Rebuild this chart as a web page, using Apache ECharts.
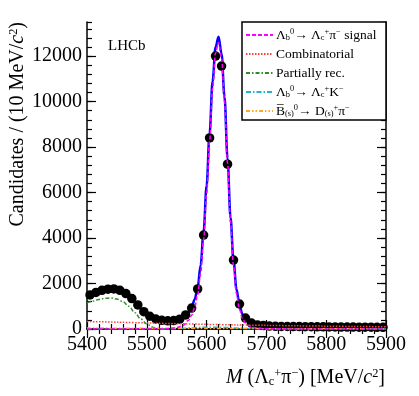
<!DOCTYPE html>
<html>
<head>
<meta charset="utf-8">
<script src="https://cdn.jsdelivr.net/npm/echarts@6/dist/echarts.min.js"></script>
<style>
  html, body { margin: 0; padding: 0; background: #fff; }
  #chart { width: 419px; height: 396px; }
</style>
</head>
<body>
<div id="chart"></div>
<script>
// data points, 10 MeV bins
const binCentres = [5405, 5415, 5425, 5435, 5445, 5455, 5465, 5475, 5485, 5495,
  5505, 5515, 5525, 5535, 5545, 5555, 5565, 5575, 5585, 5595,
  5605, 5615, 5625, 5635, 5645, 5655, 5665, 5675, 5685, 5695,
  5705, 5715, 5725, 5735, 5745, 5755, 5765, 5775, 5785, 5795,
  5805, 5815, 5825, 5835, 5845, 5855, 5865, 5875, 5885, 5895];
const candidates = [1500, 1610, 1700, 1750, 1760, 1700, 1560, 1340, 1060, 760,
  560, 440, 380, 360, 370, 430, 620, 920, 1760, 4130,
  8400, 12000, 11560, 7250, 3030, 1100, 480, 260, 180, 150,
  130, 120, 115, 110, 105, 105, 100, 100, 95, 95,
  90, 90, 85, 85, 85, 80, 80, 80, 75, 75];

// total fit (blue)
const totalMass = [5400, 5410, 5420, 5430, 5440, 5450, 5460, 5470, 5480, 5490, 5500, 5510, 5520, 5530, 5540, 5550,
  5560, 5570, 5575, 5580, 5585, 5590, 5595, 5600, 5605, 5610, 5615, 5620, 5625, 5630, 5635, 5640, 5645,
  5650, 5655, 5660, 5665, 5670, 5680, 5690, 5700, 5750, 5800, 5850, 5900];
const totalFit = [1480, 1590, 1680, 1740, 1770, 1740, 1640, 1450, 1200, 900, 650, 480, 390, 360, 360, 400,
  480, 720, 950, 1300, 1800, 2800, 4300, 6300, 8600, 10900, 12400, 12850, 12100, 10200, 7500, 4900, 3000,
  1750, 1050, 650, 450, 330, 220, 170, 145, 115, 95, 85, 75];

// signal (magenta)
const sigMass = [5400, 5530, 5550, 5560, 5570, 5575, 5580, 5585, 5590, 5595, 5600, 5605, 5610, 5615, 5620,
  5625, 5630, 5635, 5640, 5645, 5650, 5655, 5660, 5665, 5670, 5680, 5700, 5750, 5900];
const sigFit = [0, 0, 60, 140, 380, 600, 950, 1500, 2450, 3950, 5950, 8250, 10600, 12150, 12600,
  11900, 10000, 7300, 4700, 2800, 1550, 850, 450, 260, 150, 60, 15, 0, 0];

// combinatorial (red)
const combMass = [5400, 5450, 5500, 5550, 5600, 5650, 5700, 5750, 5800, 5850, 5900];
const combFit = [330, 300, 265, 235, 205, 180, 160, 140, 125, 110, 100];

// partially reconstructed (green)
const partMass = [5400, 5410, 5420, 5430, 5440, 5450, 5460, 5470, 5480, 5490, 5500, 5510, 5520, 5530, 5540];
const partFit = [1150, 1230, 1300, 1350, 1360, 1320, 1200, 1000, 720, 440, 220, 80, 20, 0, 0];

// Lb -> Lc K (cyan)
const kMass = [5400, 5540, 5570, 5600, 5630, 5660, 5700, 5900];
const kFit = [0, 0, 40, 80, 70, 30, 5, 0];

// B(s) -> D(s) pi (orange)
const bMass = [5400, 5500, 5600, 5700, 5800, 5900];
const bFit = [40, 35, 25, 15, 8, 5];

const pairs = (xs, ys) => xs.map((x, i) => [x, ys[i]]);

const serif = 'Liberation Serif';
const rich = (size) => ({
  n: { fontFamily: serif, fontSize: size, color: '#000' },
  i: { fontFamily: serif, fontSize: size, fontStyle: 'italic', color: '#000' },
  sb: { fontFamily: serif, fontSize: size * 0.62, color: '#000', verticalAlign: 'bottom', padding: [size * 0.35, 0, 0, 0] },
  sp: { fontFamily: serif, fontSize: size * 0.62, color: '#000', verticalAlign: 'top', padding: [0, 0, size * 0.35, 0] }
});

const legendText = {
  sig: '{n|Λ}{sb|b}{sp|0}{n|→ Λ}{sb|c}{sp|+}{n|π}{sp|−}{n| signal}',
  comb: '{n|Combinatorial}',
  part: '{n|Partially rec.}',
  kpi: '{n|Λ}{sb|b}{sp|0}{n|→ Λ}{sb|c}{sp|+}{n|K}{sp|−}',
  bd: '{n|B\u0305}{sb|(s)}{sp|0}{n|→ D}{sb|(s)}{sp|+}{n|π}{sp|−}'
};

const chart = echarts.init(document.getElementById('chart'), null, { renderer: 'canvas' });

const plain = (v) => String(v);
const grid = { left: 87, right: 33, top: 22, bottom: 67 };
const xBase = {
  type: 'value', min: 5400, max: 5900, interval: 100,
  axisLine: { lineStyle: { color: '#000', width: 1.5 } },
  axisTick: { inside: true, length: 9, lineStyle: { color: '#000', width: 1.2 } },
  minorTick: { show: true, splitNumber: 5, length: 5, lineStyle: { color: '#000', width: 1.2 } },
  splitLine: { show: false }
};
const yMajor = {
  type: 'value', min: 0, max: 13500, interval: 2000,
  axisLine: { show: true, lineStyle: { color: '#000', width: 1.5 } },
  axisTick: { inside: true, length: 9, lineStyle: { color: '#000', width: 1.2 } },
  splitLine: { show: false }
};
const yMinor = {
  type: 'value', min: 0, max: 13500, interval: 400,
  axisLine: { show: false },
  axisLabel: { show: false },
  axisTick: { inside: true, length: 5, lineStyle: { color: '#000', width: 1.2 } },
  splitLine: { show: false }
};

chart.setOption({
  animation: false,
  grid: grid,
  xAxis: [
    Object.assign({}, xBase, {
      position: 'bottom',
      axisLabel: { color: '#000', fontFamily: serif, fontSize: 20, margin: 6, formatter: plain }
    }),
    Object.assign({}, xBase, { position: 'top', axisLabel: { show: false } })
  ],
  yAxis: [
    Object.assign({}, yMajor, {
      position: 'left',
      axisLabel: { color: '#000', fontFamily: serif, fontSize: 20, margin: 5, showMaxLabel: false, formatter: plain }
    }),
    Object.assign({}, yMinor, { position: 'left' }),
    Object.assign({}, yMajor, { position: 'right', axisLabel: { show: false } }),
    Object.assign({}, yMinor, { position: 'right' })
  ],
  legend: {
    orient: 'vertical',
    left: 245, top: 28,
    itemWidth: 27, itemHeight: 14, itemGap: 5,
    padding: 0,
    data: ['sig', 'comb', 'part', 'kpi', 'bd'],
    formatter: (name) => legendText[name],
    itemStyle: { opacity: 0 },
    textStyle: { fontFamily: serif, fontSize: 13.5, color: '#000', rich: rich(13.5), padding: [0, 0, 0, -2] },
    z: 5
  },
  graphic: [
    {
      type: 'rect', z: 3,
      shape: { x: 242, y: 22, width: 144, height: 98 },
      style: { fill: '#fff', stroke: '#000', lineWidth: 1.5 }
    },
    {
      type: 'text', x: 108, y: 46,
      style: { text: 'LHCb', fontFamily: serif, fontSize: 15, fill: '#000', verticalAlign: 'middle' }
    },
    {
      type: 'text', x: 18, y: 22, rotation: Math.PI / 2,
      style: {
        text: '{n|Candidates / (10 MeV/}{i|c}{sp|2}{n|)}',
        rich: rich(20), align: 'right', verticalAlign: 'middle'
      }
    },
    {
      type: 'text', x: 385, y: 378,
      style: {
        text: '{i|M}{n| (Λ}{sb|c}{sp|+}{n|π}{sp|−}{n|) [MeV/}{i|c}{sp|2}{n|]}',
        rich: rich(20), align: 'right', verticalAlign: 'middle'
      }
    }
  ],
  series: [
    {
      name: 'total', type: 'line', data: pairs(totalMass, totalFit),
      smooth: 0.35, smoothMonotone: 'x', symbol: 'none',
      lineStyle: { color: '#0000ff', width: 2.5 }, z: 2
    },
    {
      name: 'data', type: 'scatter', data: pairs(binCentres, candidates),
      symbol: 'circle', symbolSize: 9.5,
      itemStyle: { color: '#000', opacity: 1 }, z: 3
    },
    {
      name: 'comb', type: 'line', data: pairs(combMass, combFit),
      smooth: 0.3, symbol: 'none',
      itemStyle: { color: '#ff4040' },
      lineStyle: { color: '#ff4040', width: 1.5, type: [1.5, 1.5] }, z: 4
    },
    {
      name: 'part', type: 'line', data: pairs(partMass, partFit),
      smooth: 0.35, smoothMonotone: 'x', symbol: 'none',
      itemStyle: { color: '#2e8b2e' },
      lineStyle: { color: '#2e8b2e', width: 1.5, type: [4, 2, 1.5, 2] }, z: 4
    },
    {
      name: 'kpi', type: 'line', data: pairs(kMass, kFit),
      smooth: 0.35, symbol: 'none',
      itemStyle: { color: '#1fb5c8' },
      lineStyle: { color: '#1fb5c8', width: 1.5, type: [5, 2, 1.5, 2] }, z: 4
    },
    {
      name: 'bd', type: 'line', data: pairs(bMass, bFit),
      smooth: 0.3, symbol: 'none',
      itemStyle: { color: '#ffa726' },
      lineStyle: { color: '#ffa726', width: 1.5, type: [4, 2, 1.5, 2, 1.5, 2] }, z: 4
    },
    {
      name: 'sig', type: 'line', data: pairs(sigMass, sigFit),
      smooth: 0.35, smoothMonotone: 'x', symbol: 'none',
      itemStyle: { color: '#ff00ff' },
      lineStyle: { color: '#ff00ff', width: 1.5, type: [4, 2] }, z: 5
    }
  ]
});
</script>
</body>
</html>
